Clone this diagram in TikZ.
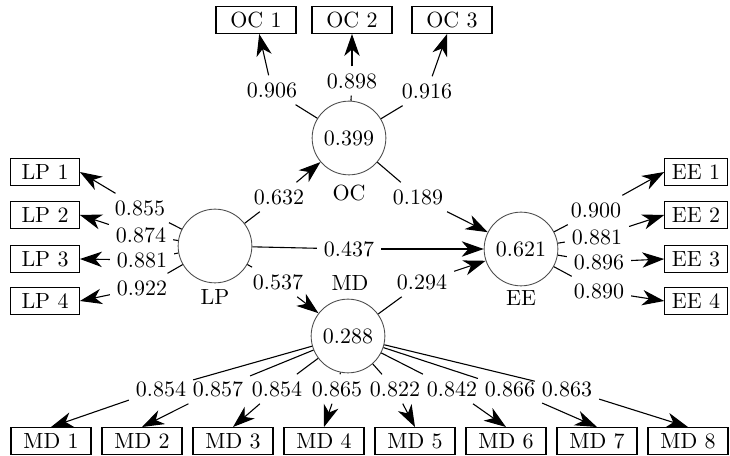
\documentclass[tikz,border=0pt]{standalone}
\usetikzlibrary{arrows.meta,positioning}

\begin{document}
\begin{tikzpicture}[x=0.016cm, y=-0.016cm, line width=0.5pt,
        latent/.style={draw=black!70, line width=0.4pt, circle, minimum size=1.18cm, inner sep=0pt},
        item/.style={draw, rectangle, minimum width=1.28cm, minimum height=0.43cm, inner sep=2pt},
        coef/.style={inner sep=3pt},
        arr/.style={-{Stealth[length=10pt, width=7pt, inset=3pt]}}]
        \useasboundingbox (0,0) rectangle (730,456);

        % Latent variables
        \node[latent] (oc) at (349,138) {0.399};
        \node[latent] (lp) at (215,246) {};
        \node[latent] (md) at (348,336) {0.288};
        \node[latent] (ee) at (521,249) {0.621};
        \node (oclab) at (349,193) {OC};
        \node (lplab) at (215,297) {LP};
        \node (mdlab) at (350,283) {MD};
        \node (eelab) at (521,298) {EE};

        % OC indicators
        \node[item] (oc1) at (256,20) {OC 1};
        \node[item] (oc2) at (352,20) {OC 2};
        \node[item] (oc3) at (452,20) {OC 3};

        % LP indicators
        \node[item, minimum width=1.1cm] (lp1) at (45,172) {LP 1};
        \node[item, minimum width=1.1cm] (lp2) at (45,215) {LP 2};
        \node[item, minimum width=1.1cm] (lp3) at (45,259) {LP 3};
        \node[item, minimum width=1.1cm] (lp4) at (45,301) {LP 4};

        % EE indicators
        \node[item, minimum width=1.0cm] (ee1) at (696,172) {EE 1};
        \node[item, minimum width=1.0cm] (ee2) at (696,215) {EE 2};
        \node[item, minimum width=1.0cm] (ee3) at (696,259) {EE 3};
        \node[item, minimum width=1.0cm] (ee4) at (696,301) {EE 4};

        % MD indicators
        \node[item] (md1) at (51,441) {MD 1};
        \node[item] (md2) at (142,441) {MD 2};
        \node[item] (md3) at (233,441) {MD 3};
        \node[item] (md4) at (324,441) {MD 4};
        \node[item] (md5) at (415,441) {MD 5};
        \node[item] (md6) at (506,441) {MD 6};
        \node[item] (md7) at (597,441) {MD 7};
        \node[item] (md8) at (688,441) {MD 8};

        % Outer loadings OC
        \node[coef] (woc1) at (272,90) {0.906};
        \node[coef] (woc2) at (352,81) {0.898};
        \node[coef] (woc3) at (427,91) {0.916};
        \draw (oc) -- (woc1); \draw[arr] (woc1) -- (oc1);
        \draw (oc) -- (woc2); \draw[arr] (woc2) -- (oc2);
        \draw (oc) -- (woc3); \draw[arr] (woc3) -- (oc3);

        % Outer loadings LP
        \node[coef] (wlp1) at (140,208) {0.855};
        \node[coef] (wlp2) at (141,235) {0.874};
        \node[coef] (wlp3) at (142,260) {0.881};
        \node[coef] (wlp4) at (142,288) {0.922};
        \draw (lp) -- (wlp1); \draw[arr] (wlp1) -- (lp1.east);
        \draw (lp) -- (wlp2); \draw[arr] (wlp2) -- (lp2.east);
        \draw (lp) -- (wlp3); \draw[arr] (wlp3) -- (lp3.east);
        \draw (lp) -- (wlp4); \draw[arr] (wlp4) -- (lp4.east);

        % Outer loadings EE
        \node[coef] (wee1) at (596,210) {0.900};
        \node[coef] (wee2) at (597,237) {0.881};
        \node[coef] (wee3) at (599,262) {0.896};
        \node[coef] (wee4) at (599,291) {0.890};
        \draw (ee) -- (wee1); \draw[arr] (wee1) -- (ee1.west);
        \draw (ee) -- (wee2); \draw[arr] (wee2) -- (ee2.west);
        \draw (ee) -- (wee3); \draw[arr] (wee3) -- (ee3.west);
        \draw (ee) -- (wee4); \draw[arr] (wee4) -- (ee4.west);

        % Outer loadings MD
        \node[coef] (wmd1) at (161,389) {0.854};
        \node[coef] (wmd2) at (218,389) {0.857};
        \node[coef] (wmd3) at (277,389) {0.854};
        \node[coef] (wmd4) at (337,389) {0.865};
        \node[coef] (wmd5) at (395,389) {0.822};
        \node[coef] (wmd6) at (452,389) {0.842};
        \node[coef] (wmd7) at (510,389) {0.866};
        \node[coef] (wmd8) at (567,389) {0.863};
        \draw (md) -- (wmd1); \draw[arr] (wmd1) -- (md1.north);
        \draw (md) -- (wmd2); \draw[arr] (wmd2) -- (md2.north);
        \draw (md) -- (wmd3); \draw[arr] (wmd3) -- (md3.north);
        \draw (md) -- (wmd4); \draw[arr] (wmd4) -- (md4.north);
        \draw (md) -- (wmd5); \draw[arr] (wmd5) -- (md5.north);
        \draw (md) -- (wmd6); \draw[arr] (wmd6) -- (md6.north);
        \draw (md) -- (wmd7); \draw[arr] (wmd7) -- (md7.north);
        \draw (md) -- (wmd8); \draw[arr] (wmd8) -- (md8.north);

        % Path coefficients
        \node[coef] (plpoc) at (279,197) {0.632};
        \node[coef] (pocee) at (418,197) {0.189};
        \node[coef] (plpee) at (349,249) {0.437};
        \node[coef] (plpmd) at (278,282) {0.537};
        \node[coef] (pmdee) at (422,282) {0.294};
        \draw (lp) -- (plpoc); \draw[arr] (plpoc) -- (oc);
        \draw (oc) -- (pocee); \draw[arr] (pocee) -- (ee);
        \draw (lp) -- (plpee); \draw[arr] (plpee) -- (ee);
        \draw (lp) -- (plpmd); \draw[arr] (plpmd) -- (md);
        \draw (md) -- (pmdee); \draw[arr] (pmdee) -- (ee);
\end{tikzpicture}
\end{document}
